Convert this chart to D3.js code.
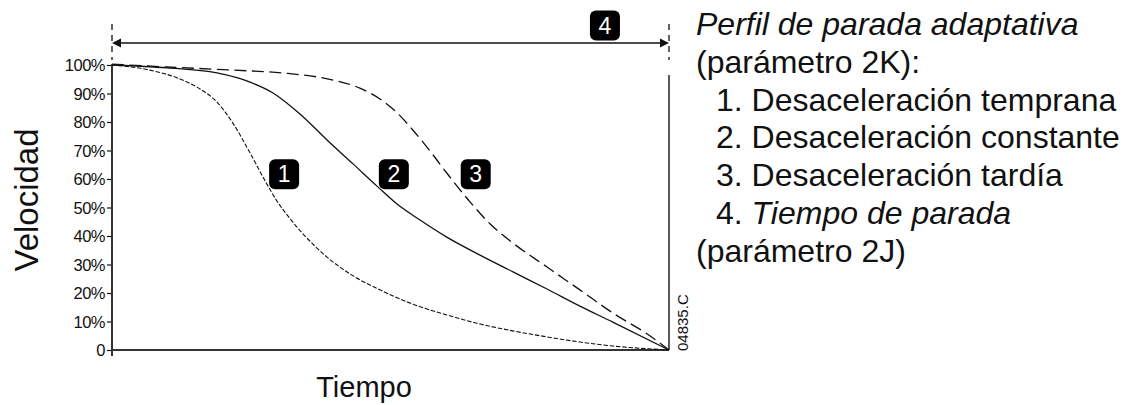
<!DOCTYPE html>
<html><head><meta charset="utf-8">
<script src="https://cdn.jsdelivr.net/npm/d3@7"></script>
<style>
html,body{margin:0;padding:0;background:#fff;}
svg{display:block;font-family:"Liberation Sans",Arial,sans-serif;}
</style></head>
<body>
<svg id="c" width="1135" height="405"></svg>
<script>
// Time axis is 0..100 (% of stop time), speed in %
const yTicks = [0,10,20,30,40,50,60,70,80,90,100];
const curve1T = [0, 6.8, 12.2, 15.8, 18.85, 21.7, 24.8, 27.5, 29.6, 32.0, 33.8, 36.4, 38.6, 43.3, 48.1, 54.0, 60.1, 66.1, 72.0, 78.1, 84.0, 89.9, 100];
const curve1V = [100, 98.2, 95.1, 91.6, 87.0, 79.6, 69.1, 59.3, 52.3, 46.0, 41.8, 36.5, 32.6, 26.0, 21.1, 16.1, 12.3, 9.1, 6.7, 4.6, 2.8, 1.4, 0];
const curve2T = [0, 9.87, 18.85, 24.78, 28.9, 33.75, 38.6, 43.27, 47.58, 51.17, 55.3, 60.1, 66.07, 72.0, 78.1, 84.0, 89.9, 100];
const curve2V = [100, 99.0, 97.2, 94.0, 90.2, 82.8, 73.7, 65.3, 57.5, 51.2, 45.6, 39.6, 33.3, 27.4, 21.4, 15.4, 9.8, 0];
const curve3T = [0, 9.87, 21.7, 30.7, 39.7, 44.5, 48.1, 51.2, 54.0, 57.1, 60.1, 64.3, 67.9, 72.0, 78.1, 84.0, 89.9, 96.1, 100];
const curve3V = [100.3, 99.3, 98.2, 97.2, 94.7, 91.9, 88.1, 83.2, 77.2, 69.8, 62.1, 51.9, 44.2, 37.5, 29.1, 21.1, 13.0, 5.6, 0];
const badgeLabels = ["1","2","3","4"];
const badgePos = [[30.9,61.7],[50.6,61.7],[65.3,61.7],[88.5,null]];
const legendLines = [
  {parts:[["Perfil de parada adaptativa",true]], indent:false},
  {parts:[["(parámetro 2K):",false]], indent:false},
  {parts:[["1. Desaceleración temprana",false]], indent:true},
  {parts:[["2. Desaceleración constante",false]], indent:true},
  {parts:[["3. Desaceleración tardía",false]], indent:true},
  {parts:[["4. ",false],["Tiempo de parada",true]], indent:true},
  {parts:[["(parámetro 2J)",false]], indent:false}
];
const yLabel = "Velocidad", xLabel = "Tiempo", code = "04835.C";

const svg = d3.select("#c");
const x = d3.scaleLinear().domain([0,100]).range([112,669]);
const y = d3.scaleLinear().domain([0,100]).range([350,65]);
const ink = "#111";

// Y axis
const yAxis = d3.axisLeft(y).tickValues(yTicks).tickSize(5).tickPadding(2)
  .tickFormat(d => d===0 ? "0" : d+"%");
const gy = svg.append("g").attr("transform","translate(112,0)").call(yAxis);
gy.select(".domain").remove();
gy.selectAll(".tick line").attr("stroke",ink).attr("stroke-width",1.2);
gy.selectAll(".tick text").attr("fill",ink).attr("font-size",16.5).attr("letter-spacing","-0.5px").attr("dy","0.35em");
svg.append("line").attr("x1",112).attr("x2",112).attr("y1",y(100)-1).attr("y2",y(0)+6)
  .attr("stroke","#333").attr("stroke-width",2);
// X axis
svg.append("line").attr("x1",111).attr("x2",x(100)).attr("y1",y(0)).attr("y2",y(0))
  .attr("stroke","#333").attr("stroke-width",2);
// right boundary
svg.append("line").attr("x1",x(100)).attr("x2",x(100)).attr("y1",75).attr("y2",y(0))
  .attr("stroke",ink).attr("stroke-width",1.4);

// Curves
const line = d3.line().x(d=>x(d[0])).y(d=>y(d[1])).curve(d3.curveMonotoneX);
const series = [
  {t:curve1T, v:curve1V, dash:"4.5,1.8", w:1.1},
  {t:curve2T, v:curve2V, dash:null, w:1.3},
  {t:curve3T, v:curve3V, dash:"12,5.5", w:1.3}
];
series.forEach(s=>{
  const pts = s.t.map((t,i)=>[t,s.v[i]]);
  svg.append("path").attr("d",line(pts)).attr("fill","none").attr("stroke",ink)
    .attr("stroke-width",s.w).attr("stroke-dasharray",s.dash);
});

// Dimension arrow (stop time)
const arrowY = 43;
[0,100].forEach(t=>{
  svg.append("line").attr("x1",x(t)).attr("x2",x(t)).attr("y1",24).attr("y2",60)
    .attr("stroke",ink).attr("stroke-width",1.3).attr("stroke-dasharray","6,5");
});
svg.append("line").attr("x1",x(0)+6).attr("x2",x(100)-6).attr("y1",arrowY).attr("y2",arrowY)
  .attr("stroke",ink).attr("stroke-width",1.5);
svg.append("path").attr("d",`M${x(0)},${arrowY} l9,-4.5 l0,9 z`).attr("fill",ink);
svg.append("path").attr("d",`M${x(100)},${arrowY} l-9,-4.5 l0,9 z`).attr("fill",ink);

// Badges
badgeLabels.forEach((lab,i)=>{
  const cx = x(badgePos[i][0]);
  const cy = badgePos[i][1]===null ? 25.5 : y(badgePos[i][1]);
  const g = svg.append("g");
  g.append("rect").attr("x",cx-15).attr("y",cy-15).attr("width",30).attr("height",30)
    .attr("rx",6).attr("fill","#000");
  g.append("text").attr("x",cx).attr("y",cy).attr("dy","0.36em").attr("text-anchor","middle")
    .attr("fill","#fff").attr("font-size",23).text(lab);
});

// Axis titles
svg.append("text").attr("transform","translate(38,200) rotate(-90)").attr("text-anchor","middle")
  .attr("font-size",33).attr("fill",ink).text(yLabel);
svg.append("text").attr("x",364).attr("y",397).attr("text-anchor","middle")
  .attr("font-size",29).attr("fill",ink).text(xLabel);
svg.append("text").attr("transform",`translate(688,351) rotate(-90)`).attr("font-size",15)
  .attr("fill",ink).text(code);

// Legend text
legendLines.forEach((ln,i)=>{
  const t = svg.append("text").attr("x", ln.indent ? 716 : 696).attr("y",35+i*37.8)
    .attr("font-size",32).attr("fill",ink);
  ln.parts.forEach(p=>{
    t.append("tspan").attr("font-style",p[1]?"italic":"normal").text(p[0]);
  });
});
</script>
</body></html>
